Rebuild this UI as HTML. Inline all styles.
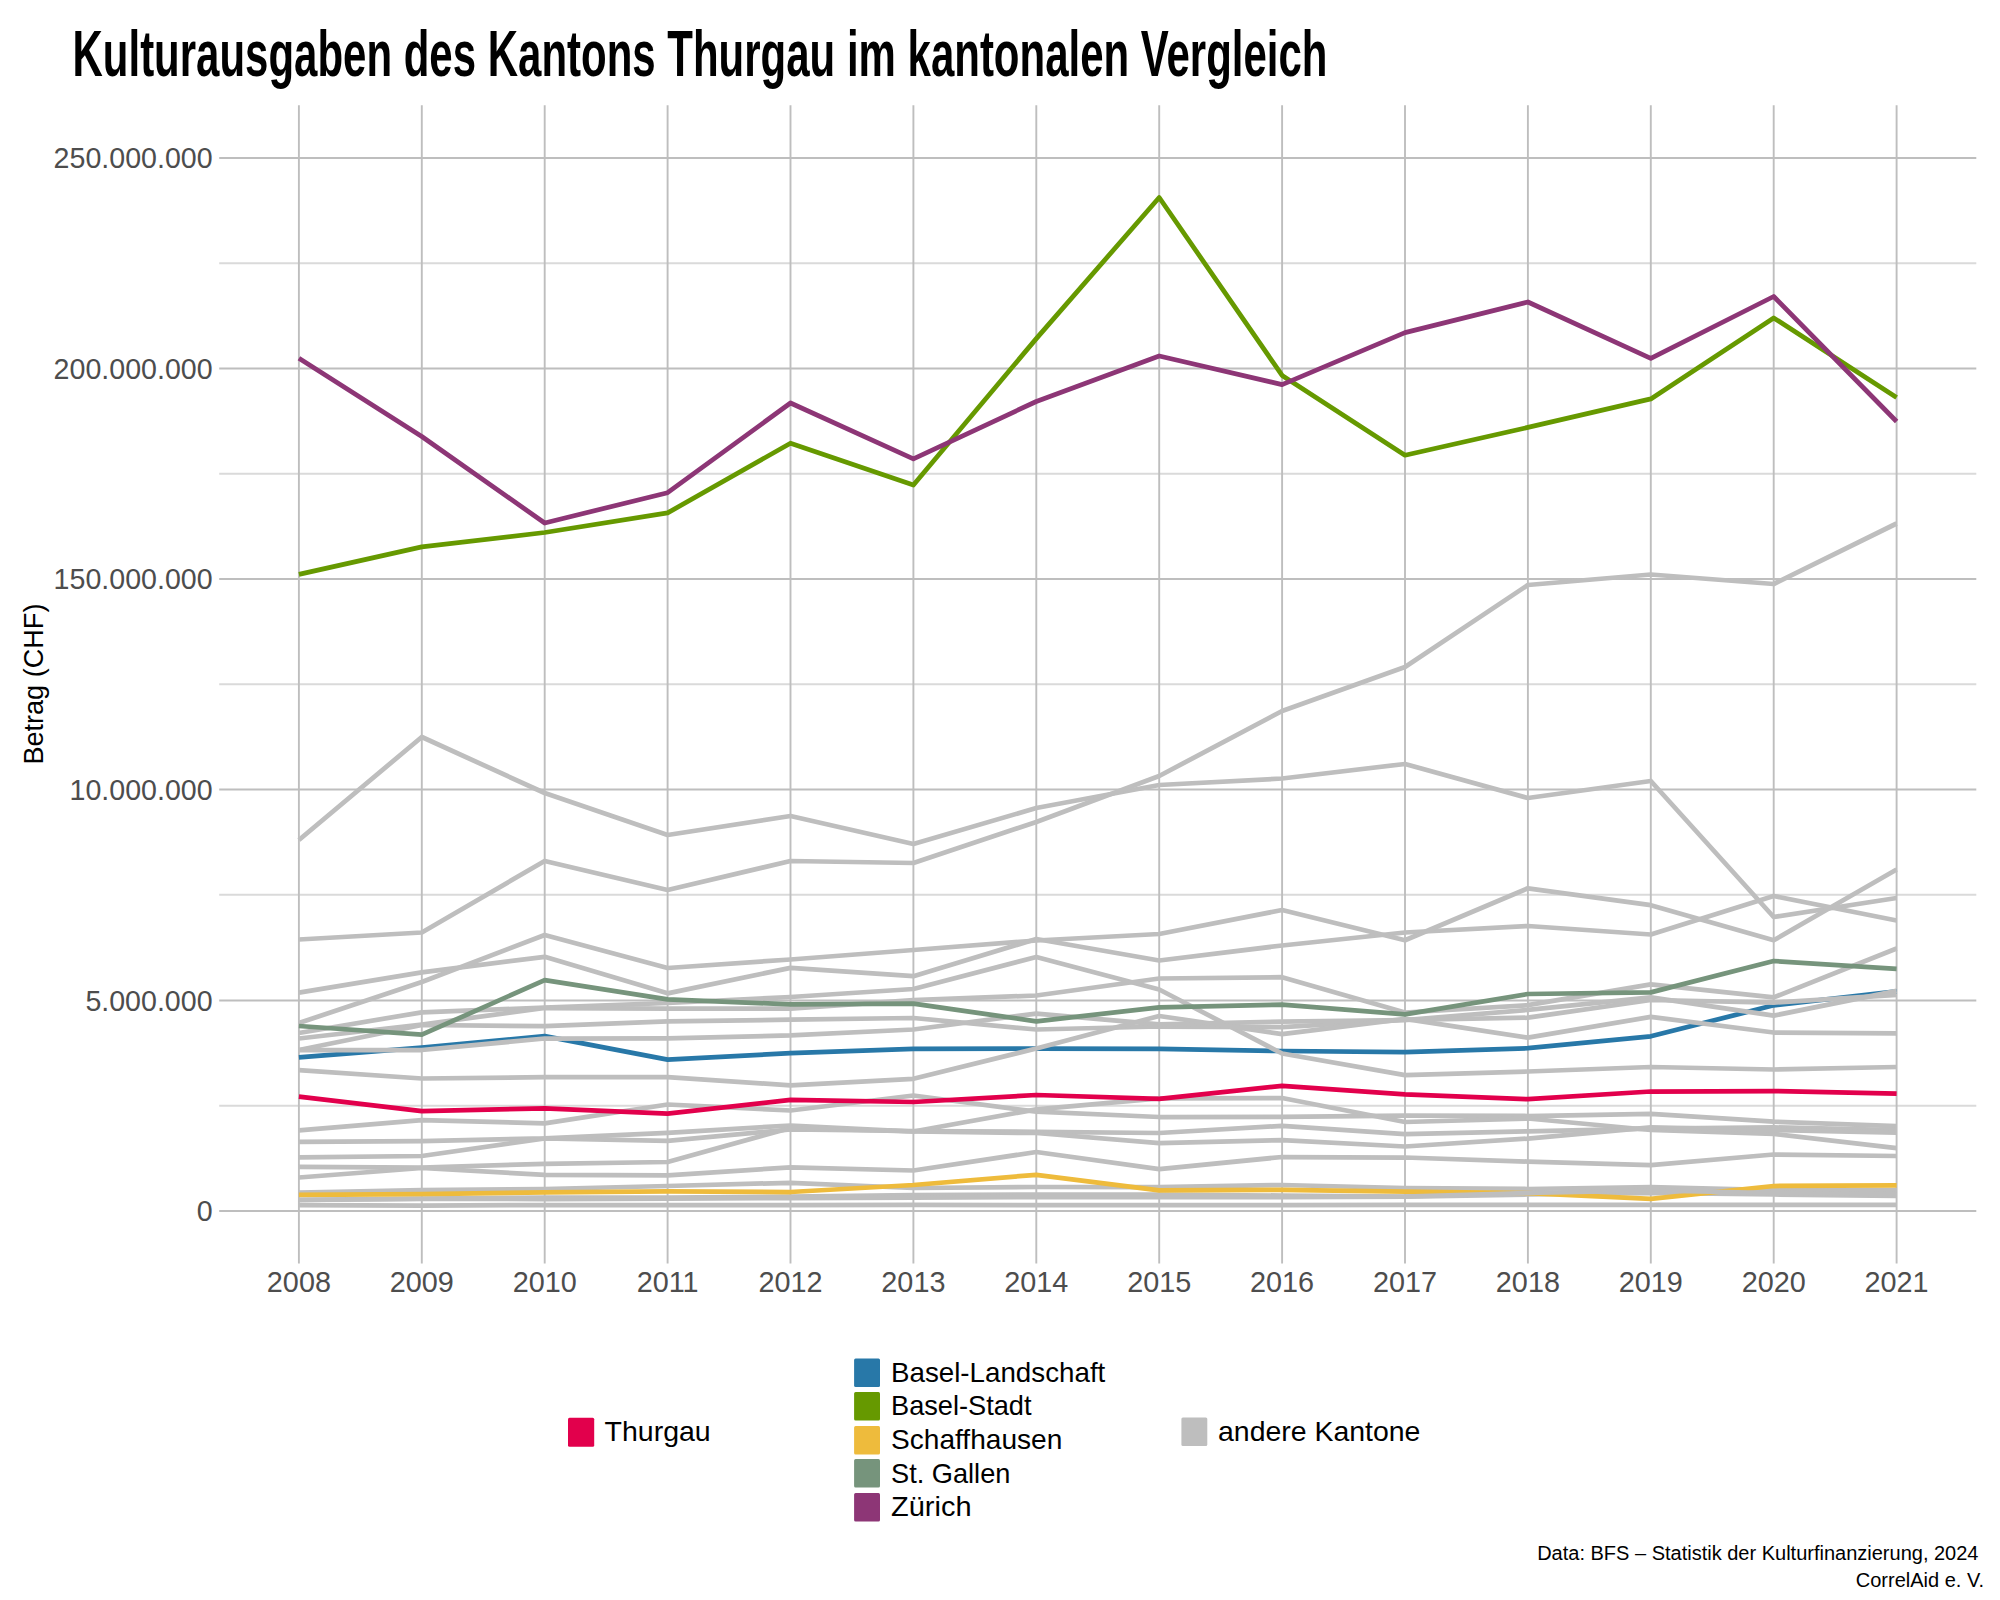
<!DOCTYPE html><html><head><meta charset="utf-8"><title>Kulturausgaben</title>
<style>html,body{margin:0;padding:0;background:#fff;width:2000px;height:1600px;overflow:hidden}svg{display:block}text{font-family:"Liberation Sans",sans-serif}</style></head><body>
<svg width="2000" height="1600" viewBox="0 0 2000 1600">
<rect width="2000" height="1600" fill="#fff"/>
<line x1="219.2" y1="263.2" x2="1976.3" y2="263.2" stroke="#dadada" stroke-width="1.9"/><line x1="219.2" y1="473.8" x2="1976.3" y2="473.8" stroke="#dadada" stroke-width="1.9"/><line x1="219.2" y1="684.2" x2="1976.3" y2="684.2" stroke="#dadada" stroke-width="1.9"/><line x1="219.2" y1="894.8" x2="1976.3" y2="894.8" stroke="#dadada" stroke-width="1.9"/><line x1="219.2" y1="1105.8" x2="1976.3" y2="1105.8" stroke="#dadada" stroke-width="1.9"/><line x1="219.2" y1="158.0" x2="1976.3" y2="158.0" stroke="#bebebe" stroke-width="1.9"/><line x1="219.2" y1="368.5" x2="1976.3" y2="368.5" stroke="#bebebe" stroke-width="1.9"/><line x1="219.2" y1="579.0" x2="1976.3" y2="579.0" stroke="#bebebe" stroke-width="1.9"/><line x1="219.2" y1="789.5" x2="1976.3" y2="789.5" stroke="#bebebe" stroke-width="1.9"/><line x1="219.2" y1="1000.5" x2="1976.3" y2="1000.5" stroke="#bebebe" stroke-width="1.9"/><line x1="219.2" y1="1211.0" x2="1976.3" y2="1211.0" stroke="#bebebe" stroke-width="1.9"/><line x1="298.9" y1="105.3" x2="298.9" y2="1263.6" stroke="#bebebe" stroke-width="1.9"/><line x1="421.8" y1="105.3" x2="421.8" y2="1263.6" stroke="#bebebe" stroke-width="1.9"/><line x1="544.7" y1="105.3" x2="544.7" y2="1263.6" stroke="#bebebe" stroke-width="1.9"/><line x1="667.6" y1="105.3" x2="667.6" y2="1263.6" stroke="#bebebe" stroke-width="1.9"/><line x1="790.5" y1="105.3" x2="790.5" y2="1263.6" stroke="#bebebe" stroke-width="1.9"/><line x1="913.4" y1="105.3" x2="913.4" y2="1263.6" stroke="#bebebe" stroke-width="1.9"/><line x1="1036.3" y1="105.3" x2="1036.3" y2="1263.6" stroke="#bebebe" stroke-width="1.9"/><line x1="1159.2" y1="105.3" x2="1159.2" y2="1263.6" stroke="#bebebe" stroke-width="1.9"/><line x1="1282.1" y1="105.3" x2="1282.1" y2="1263.6" stroke="#bebebe" stroke-width="1.9"/><line x1="1405.0" y1="105.3" x2="1405.0" y2="1263.6" stroke="#bebebe" stroke-width="1.9"/><line x1="1527.9" y1="105.3" x2="1527.9" y2="1263.6" stroke="#bebebe" stroke-width="1.9"/><line x1="1650.8" y1="105.3" x2="1650.8" y2="1263.6" stroke="#bebebe" stroke-width="1.9"/><line x1="1773.7" y1="105.3" x2="1773.7" y2="1263.6" stroke="#bebebe" stroke-width="1.9"/><line x1="1896.6" y1="105.3" x2="1896.6" y2="1263.6" stroke="#bebebe" stroke-width="1.9"/>
<g fill="none" stroke-width="4.75" stroke-linejoin="round" stroke-linecap="butt">
<path d="M298.9,1057.4 L421.8,1047.7 L544.7,1036.2 L667.6,1059.6 L790.5,1053.2 L913.4,1048.8 L1036.3,1048.5 L1159.2,1048.9 L1282.1,1051.0 L1405.0,1052.2 L1527.9,1048.2 L1650.8,1036.3 L1773.7,1005.3 L1896.6,991.3" stroke="#2878a8"/>
<path d="M298.9,840.0 L421.8,737.0 L544.7,793.0 L667.6,835.0 L790.5,816.0 L913.4,844.0 L1036.3,808.0 L1159.2,785.0 L1282.1,778.5 L1405.0,764.0 L1527.9,798.0 L1650.8,781.0 L1773.7,917.0 L1896.6,898.0" stroke="#bebebe"/>
<path d="M298.9,939.5 L421.8,932.5 L544.7,861.0 L667.6,890.0 L790.5,861.0 L913.4,863.0 L1036.3,822.0 L1159.2,776.0 L1282.1,711.0 L1405.0,667.0 L1527.9,585.0 L1650.8,574.5 L1773.7,584.0 L1896.6,523.5" stroke="#bebebe"/>
<path d="M298.9,992.6 L421.8,972.4 L544.7,956.8 L667.6,993.3 L790.5,967.9 L913.4,976.2 L1036.3,939.0 L1159.2,960.5 L1282.1,945.5 L1405.0,932.5 L1527.9,926.0 L1650.8,934.5 L1773.7,896.0 L1896.6,920.5" stroke="#bebebe"/>
<path d="M298.9,1023.0 L421.8,982.0 L544.7,935.0 L667.6,968.0 L790.5,959.5 L913.4,950.0 L1036.3,940.5 L1159.2,934.0 L1282.1,910.0 L1405.0,940.3 L1527.9,888.3 L1650.8,905.2 L1773.7,940.3 L1896.6,869.5" stroke="#bebebe"/>
<path d="M298.9,1033.0 L421.8,1012.3 L544.7,1007.6 L667.6,1003.0 L790.5,997.0 L913.4,989.0 L1036.3,957.0 L1159.2,989.5 L1282.1,1053.5 L1405.0,1075.2 L1527.9,1071.5 L1650.8,1067.0 L1773.7,1069.5 L1896.6,1067.0" stroke="#bebebe"/>
<path d="M298.9,1038.5 L421.8,1024.5 L544.7,1008.0 L667.6,1008.6 L790.5,1008.7 L913.4,1000.2 L1036.3,995.5 L1159.2,978.5 L1282.1,977.2 L1405.0,1012.5 L1527.9,1005.2 L1650.8,984.4 L1773.7,997.4 L1896.6,948.5" stroke="#bebebe"/>
<path d="M298.9,1050.0 L421.8,1025.0 L544.7,1026.2 L667.6,1021.3 L790.5,1019.7 L913.4,1018.0 L1036.3,1029.5 L1159.2,1026.5 L1282.1,1027.2 L1405.0,1020.0 L1527.9,1009.9 L1650.8,997.4 L1773.7,1015.6 L1896.6,990.9" stroke="#bebebe"/>
<path d="M298.9,1050.0 L421.8,1050.0 L544.7,1038.5 L667.6,1038.3 L790.5,1035.4 L913.4,1029.5 L1036.3,1013.6 L1159.2,1024.4 L1282.1,1021.6 L1405.0,1020.0 L1527.9,1017.7 L1650.8,1000.0 L1773.7,1002.6 L1896.6,994.8" stroke="#bebebe"/>
<path d="M298.9,1070.2 L421.8,1078.5 L544.7,1077.2 L667.6,1077.2 L790.5,1085.3 L913.4,1078.8 L1036.3,1048.5 L1159.2,1016.0 L1282.1,1034.2 L1405.0,1018.8 L1527.9,1037.7 L1650.8,1016.9 L1773.7,1032.5 L1896.6,1033.3" stroke="#bebebe"/>
<path d="M298.9,1130.3 L421.8,1120.1 L544.7,1123.3 L667.6,1104.5 L790.5,1110.5 L913.4,1095.5 L1036.3,1111.7 L1159.2,1117.0 L1282.1,1116.8 L1405.0,1115.7 L1527.9,1116.0 L1650.8,1113.9 L1773.7,1121.7 L1896.6,1126.1" stroke="#bebebe"/>
<path d="M298.9,1141.8 L421.8,1141.0 L544.7,1138.3 L667.6,1132.8 L790.5,1125.5 L913.4,1131.5 L1036.3,1109.4 L1159.2,1098.4 L1282.1,1098.0 L1405.0,1122.0 L1527.9,1118.5 L1650.8,1130.0 L1773.7,1133.9 L1896.6,1148.2" stroke="#bebebe"/>
<path d="M298.9,1157.3 L421.8,1156.0 L544.7,1138.5 L667.6,1140.8 L790.5,1129.5 L913.4,1131.0 L1036.3,1131.8 L1159.2,1133.0 L1282.1,1125.8 L1405.0,1134.2 L1527.9,1131.4 L1650.8,1128.7 L1773.7,1127.4 L1896.6,1130.0" stroke="#bebebe"/>
<path d="M298.9,1166.9 L421.8,1167.5 L544.7,1163.9 L667.6,1162.0 L790.5,1128.0 L913.4,1131.5 L1036.3,1133.0 L1159.2,1143.1 L1282.1,1140.2 L1405.0,1146.5 L1527.9,1138.6 L1650.8,1127.4 L1773.7,1130.0 L1896.6,1132.6" stroke="#bebebe"/>
<path d="M298.9,1177.5 L421.8,1168.0 L544.7,1174.8 L667.6,1175.4 L790.5,1167.3 L913.4,1170.5 L1036.3,1152.0 L1159.2,1169.2 L1282.1,1157.0 L1405.0,1157.5 L1527.9,1161.6 L1650.8,1165.1 L1773.7,1154.5 L1896.6,1156.0" stroke="#bebebe"/>
<path d="M298.9,1192.5 L421.8,1190.0 L544.7,1189.0 L667.6,1186.0 L790.5,1182.8 L913.4,1188.0 L1036.3,1187.0 L1159.2,1187.0 L1282.1,1185.0 L1405.0,1188.0 L1527.9,1189.0 L1650.8,1187.0 L1773.7,1190.0 L1896.6,1190.0" stroke="#bebebe"/>
<path d="M298.9,1199.8 L421.8,1198.7 L544.7,1197.7 L667.6,1197.7 L790.5,1196.6 L913.4,1195.0 L1036.3,1194.5 L1159.2,1194.5 L1282.1,1195.6 L1405.0,1196.6 L1527.9,1194.5 L1650.8,1193.0 L1773.7,1194.5 L1896.6,1196.0" stroke="#bebebe"/>
<path d="M298.9,1205.1 L421.8,1205.5 L544.7,1205.1 L667.6,1205.1 L790.5,1205.1 L913.4,1204.8 L1036.3,1205.1 L1159.2,1205.1 L1282.1,1205.1 L1405.0,1204.8 L1527.9,1204.8 L1650.8,1204.8 L1773.7,1204.8 L1896.6,1204.8" stroke="#bebebe"/>
<path d="M298.9,1194.9 L421.8,1194.1 L544.7,1192.4 L667.6,1191.3 L790.5,1192.0 L913.4,1185.0 L1036.3,1174.8 L1159.2,1190.3 L1282.1,1189.9 L1405.0,1191.6 L1527.9,1193.2 L1650.8,1198.8 L1773.7,1186.0 L1896.6,1185.3" stroke="#eebb3c"/>
<path d="M298.9,1200.0 L421.8,1199.0 L544.7,1199.0 L667.6,1198.5 L790.5,1198.0 L913.4,1197.5 L1036.3,1197.0 L1159.2,1197.0 L1282.1,1197.0 L1405.0,1196.5 L1527.9,1193.0 L1650.8,1190.5 L1773.7,1193.0 L1896.6,1194.0" stroke="#bebebe"/>
<path d="M298.9,1026.0 L421.8,1034.7 L544.7,980.1 L667.6,999.3 L790.5,1004.4 L913.4,1003.7 L1036.3,1021.3 L1159.2,1007.3 L1282.1,1004.6 L1405.0,1014.3 L1527.9,994.0 L1650.8,992.4 L1773.7,961.0 L1896.6,968.8" stroke="#76947c"/>
<path d="M298.9,1096.7 L421.8,1111.2 L544.7,1108.4 L667.6,1113.7 L790.5,1099.9 L913.4,1102.0 L1036.3,1095.0 L1159.2,1098.9 L1282.1,1085.8 L1405.0,1094.4 L1527.9,1099.2 L1650.8,1091.5 L1773.7,1091.0 L1896.6,1093.6" stroke="#e2004c"/>
<path d="M298.9,574.4 L421.8,546.9 L544.7,532.5 L667.6,512.9 L790.5,443.2 L913.4,485.0 L1036.3,338.6 L1159.2,197.5 L1282.1,375.4 L1405.0,455.2 L1527.9,427.4 L1650.8,398.9 L1773.7,317.9 L1896.6,397.4" stroke="#669900"/>
<path d="M298.9,358.3 L421.8,436.5 L544.7,523.0 L667.6,492.7 L790.5,403.0 L913.4,458.8 L1036.3,401.5 L1159.2,356.0 L1282.1,384.6 L1405.0,332.6 L1527.9,302.0 L1650.8,358.4 L1773.7,296.5 L1896.6,421.5" stroke="#8d3676"/>
</g>
<text x="212.6" y="168.3" font-size="28.6" fill="#4d4d4d" text-anchor="end">250.000.000</text>
<text x="212.6" y="378.8" font-size="28.6" fill="#4d4d4d" text-anchor="end">200.000.000</text>
<text x="212.6" y="589.3" font-size="28.6" fill="#4d4d4d" text-anchor="end">150.000.000</text>
<text x="212.6" y="799.8" font-size="28.6" fill="#4d4d4d" text-anchor="end">10.000.000</text>
<text x="212.6" y="1010.8" font-size="28.6" fill="#4d4d4d" text-anchor="end">5.000.000</text>
<text x="212.6" y="1221.3" font-size="28.6" fill="#4d4d4d" text-anchor="end">0</text>
<text x="298.9" y="1291.6" font-size="28.8" fill="#4d4d4d" text-anchor="middle">2008</text>
<text x="421.8" y="1291.6" font-size="28.8" fill="#4d4d4d" text-anchor="middle">2009</text>
<text x="544.7" y="1291.6" font-size="28.8" fill="#4d4d4d" text-anchor="middle">2010</text>
<text x="667.6" y="1291.6" font-size="28.8" fill="#4d4d4d" text-anchor="middle">2011</text>
<text x="790.5" y="1291.6" font-size="28.8" fill="#4d4d4d" text-anchor="middle">2012</text>
<text x="913.4" y="1291.6" font-size="28.8" fill="#4d4d4d" text-anchor="middle">2013</text>
<text x="1036.3" y="1291.6" font-size="28.8" fill="#4d4d4d" text-anchor="middle">2014</text>
<text x="1159.2" y="1291.6" font-size="28.8" fill="#4d4d4d" text-anchor="middle">2015</text>
<text x="1282.1" y="1291.6" font-size="28.8" fill="#4d4d4d" text-anchor="middle">2016</text>
<text x="1405.0" y="1291.6" font-size="28.8" fill="#4d4d4d" text-anchor="middle">2017</text>
<text x="1527.9" y="1291.6" font-size="28.8" fill="#4d4d4d" text-anchor="middle">2018</text>
<text x="1650.8" y="1291.6" font-size="28.8" fill="#4d4d4d" text-anchor="middle">2019</text>
<text x="1773.7" y="1291.6" font-size="28.8" fill="#4d4d4d" text-anchor="middle">2020</text>
<text x="1896.6" y="1291.6" font-size="28.8" fill="#4d4d4d" text-anchor="middle">2021</text>
<text transform="translate(43.3,684.1) rotate(-90)" font-size="27.5" fill="#000" text-anchor="middle" textLength="161" lengthAdjust="spacingAndGlyphs">Betrag (CHF)</text>
<text x="72.5" y="75.8" font-size="65.5" font-weight="bold" fill="#000" textLength="1255" lengthAdjust="spacingAndGlyphs">Kulturausgaben des Kantons Thurgau im kantonalen Vergleich</text>
<rect x="568" y="1417.8" width="26.2" height="29" rx="1.5" fill="#e2004c"/>
<text x="604.5" y="1440.8" font-size="27.2" fill="#000" textLength="106.2" lengthAdjust="spacingAndGlyphs">Thurgau</text>
<rect x="854.1" y="1358.4" width="25.9" height="28.5" rx="1.5" fill="#2878a8"/>
<text x="891" y="1382.2" font-size="27.2" fill="#000" textLength="214.3" lengthAdjust="spacingAndGlyphs">Basel-Landschaft</text>
<rect x="854.1" y="1392.0" width="25.9" height="28.5" rx="1.5" fill="#669900"/>
<text x="891" y="1415.4" font-size="27.2" fill="#000">Basel-Stadt</text>
<rect x="854.1" y="1425.9" width="25.9" height="28.5" rx="1.5" fill="#eebb3c"/>
<text x="891" y="1449.0" font-size="27.2" fill="#000" textLength="171.3" lengthAdjust="spacingAndGlyphs">Schaffhausen</text>
<rect x="854.1" y="1458.9" width="25.9" height="28.5" rx="1.5" fill="#76947c"/>
<text x="891" y="1482.5" font-size="27.2" fill="#000">St. Gallen</text>
<rect x="854.1" y="1492.9" width="25.9" height="28.5" rx="1.5" fill="#8d3676"/>
<text x="891" y="1516.2" font-size="27.2" fill="#000" textLength="80.6" lengthAdjust="spacingAndGlyphs">Zürich</text>
<rect x="1181.4" y="1417.6" width="25.9" height="28.5" rx="1.5" fill="#bebebe"/>
<text x="1218" y="1440.8" font-size="27.2" fill="#000" textLength="202.4" lengthAdjust="spacingAndGlyphs">andere Kantone</text>
<text x="1978.5" y="1560" font-size="20" fill="#000" text-anchor="end">Data: BFS – Statistik der Kulturfinanzierung, 2024</text>
<text x="1984" y="1587.3" font-size="20" fill="#000" text-anchor="end">CorrelAid e. V.</text>
</svg></body></html>
